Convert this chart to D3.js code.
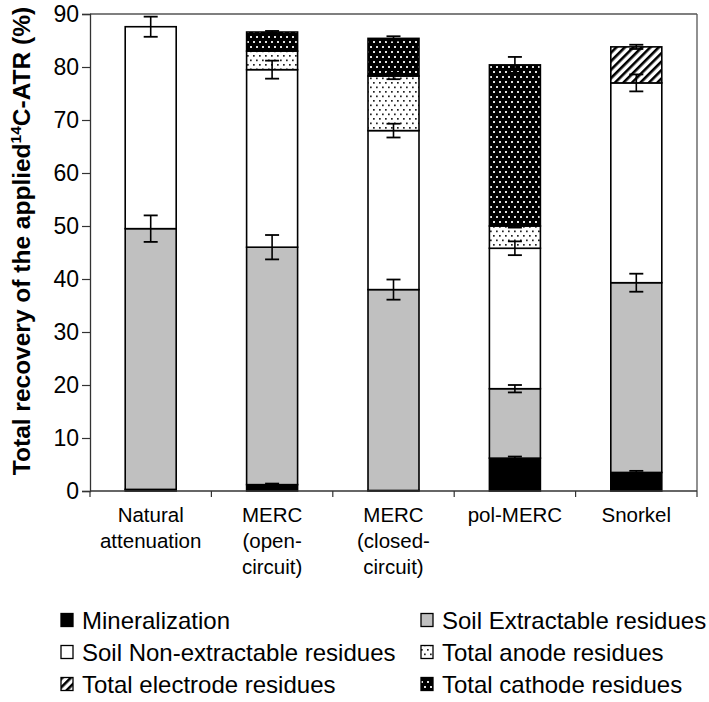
<!DOCTYPE html>
<html><head><meta charset="utf-8">
<script src="https://cdn.jsdelivr.net/npm/d3@7"></script>
<style>
body{margin:0;background:#fff;}
svg{display:block;font-family:"Liberation Sans",Arial,sans-serif;}
</style></head>
<body><svg id="c" width="709" height="702"></svg>
<script>
const categories = ["Natural attenuation","MERC (open-circuit)","MERC (closed-circuit)","pol-MERC","Snorkel"];
const categoryLines = [["Natural","attenuation"],["MERC","(open-","circuit)"],["MERC","(closed-","circuit)"],["pol-MERC"],["Snorkel"]];
const seriesNames = ["Mineralization","Soil Extractable residues","Soil Non-extractable residues","Total anode residues","Total electrode residues","Total cathode residues"];
// segment heights (%)
const mineralization = [0.3, 1.2, 0.1, 6.2, 3.5];
const extractable    = [49.2, 44.8, 37.9, 13.1, 35.8];
const nonExtractable = [38.1, 33.5, 30.0, 26.5, 37.7];
const anode          = [0, 3.5, 10.3, 4.2, 0];
const electrode      = [0, 0, 0, 0, 6.8];
const cathode        = [0, 3.6, 7.1, 30.4, 0];
// error bars (± %) at top of each segment
const errMineralization = [0, 0.2, 0, 0.3, 0.3];
const errExtractable    = [2.5, 2.3, 1.9, 0.7, 1.7];
const errNonExtractable = [1.9, 1.7, 1.3, 1.3, 1.6];
const errAnode          = [0, 0, 0.6, 0.3, 0];
const errElectrode      = [0, 0, 0, 0, 0.4];
const errCathode        = [0, 0.2, 0.4, 1.5, 0];
const yTicks = [0,10,20,30,40,50,60,70,80,90];

const seriesValues = [mineralization, extractable, nonExtractable, anode, electrode, cathode];
const seriesErr = [errMineralization, errExtractable, errNonExtractable, errAnode, errElectrode, errCathode];
const fills = ["#000","#c0c0c0","#fff","url(#pAnode)","url(#pElectrode)","url(#pCathode)"];

const svg = d3.select("#c");
const defs = svg.append("defs");
// anode: white with black dots
let p = defs.append("pattern").attr("id","pAnode").attr("patternUnits","userSpaceOnUse").attr("width",6).attr("height",9);
p.append("rect").attr("width",6).attr("height",9).attr("fill","#fff");
p.append("rect").attr("x",1).attr("y",1).attr("width",1.7).attr("height",1.7).attr("fill","#222");
p.append("rect").attr("x",4).attr("y",5.5).attr("width",1.7).attr("height",1.7).attr("fill","#222");
// cathode: black with white dots
p = defs.append("pattern").attr("id","pCathode").attr("patternUnits","userSpaceOnUse").attr("width",6).attr("height",10);
p.append("rect").attr("width",6).attr("height",10).attr("fill","#000");
p.append("rect").attr("x",1).attr("y",1).attr("width",2).attr("height",2).attr("fill","#e0e0e0");
p.append("rect").attr("x",4).attr("y",6).attr("width",2).attr("height",2).attr("fill","#e0e0e0");
// electrode: diagonal hatch
p = defs.append("pattern").attr("id","pElectrode").attr("patternUnits","userSpaceOnUse").attr("width",6).attr("height",6).attr("patternTransform","rotate(45)");
p.append("rect").attr("width",6).attr("height",6).attr("fill","#fff");
p.append("rect").attr("x",0).attr("y",0).attr("width",2.6).attr("height",6).attr("fill","#000");

const x = d3.scaleBand().domain(categories).range([90,697]).paddingInner(0.58).paddingOuter(0.29);
const y = d3.scaleLinear().domain([0,90]).range([491,14]);

// frame top/right
svg.append("line").attr("x1",90).attr("x2",697).attr("y1",y(90)).attr("y2",y(90)).attr("stroke","#555").attr("stroke-width",1.3);
svg.append("line").attr("x1",697).attr("x2",697).attr("y1",y(90)).attr("y2",y(0)).attr("stroke","#555").attr("stroke-width",1.3);

// stacked data
const rows = categories.map((c,i)=>{const o={cat:c}; seriesNames.forEach((s,k)=>o[s]=seriesValues[k][i]); return o;});
const stack = d3.stack().keys(seriesNames)(rows);

const g = svg.append("g");
stack.forEach((layer,k)=>{
  g.selectAll(null).data(layer.filter(d=>d[1]-d[0]>0)).join("rect")
    .attr("x",d=>x(d.data.cat)).attr("width",x.bandwidth())
    .attr("y",d=>y(d[1])).attr("height",d=>y(d[0])-y(d[1]))
    .attr("fill",fills[k]).attr("stroke","#000").attr("stroke-width",1.6);
});
// error bars
stack.forEach((layer,k)=>{
  layer.forEach((d,i)=>{
    const e = seriesErr[k][i];
    if(!(e>0) || d[1]-d[0]<=0) return;
    const cx = x(d.data.cat)+x.bandwidth()/2;
    g.append("line").attr("x1",cx).attr("x2",cx).attr("y1",y(d[1]+e)).attr("y2",y(d[1]-e)).attr("stroke","#000").attr("stroke-width",1.6);
    [d[1]+e,d[1]-e].forEach(v=>g.append("line").attr("x1",cx-7).attr("x2",cx+7).attr("y1",y(v)).attr("y2",y(v)).attr("stroke","#000").attr("stroke-width",1.8));
  });
});

// y axis
const ya = svg.append("g").attr("transform","translate(90,0)")
  .call(d3.axisLeft(y).tickValues(yTicks).tickSize(8).tickPadding(3).tickFormat(d3.format("d")));
ya.select(".domain").attr("stroke","#333").attr("stroke-width",1.3);
ya.selectAll(".tick line").attr("stroke","#333").attr("stroke-width",1.2);
ya.selectAll("text").attr("font-size",23).attr("fill","#000").attr("font-family","Liberation Sans, Arial, sans-serif");

// x axis
const bounds = categories.map(c=>x(c)-x.step()*x.paddingInner()/2).concat([697]);
svg.append("line").attr("x1",90).attr("x2",697).attr("y1",y(0)).attr("y2",y(0)).attr("stroke","#333").attr("stroke-width",1.3);
svg.selectAll(null).data(bounds).join("line").attr("x1",d=>d).attr("x2",d=>d).attr("y1",y(0)).attr("y2",y(0)+6).attr("stroke","#333").attr("stroke-width",1.2);
categories.forEach((c,i)=>{
  const t = svg.append("text").attr("text-anchor","middle").attr("font-size",20.5).attr("fill","#000");
  categoryLines[i].forEach((ln,j)=>t.append("tspan").attr("x",x(c)+x.bandwidth()/2).attr("y",522+j*26).text(ln));
});

// y label
const yl = svg.append("text").attr("transform","translate(30,241) rotate(-90)").attr("text-anchor","middle")
  .attr("font-size",24.5).attr("font-weight","bold").attr("fill","#000");
yl.append("tspan").text("Total recovery of the applied");
yl.append("tspan").attr("font-size",15.5).attr("dy",-9.5).text("14");
yl.append("tspan").attr("dy",9.5).text("C-ATR (%)");

// legend
const legPos = [[61,620],[421,620],[61,652],[421,652],[61,684],[421,684]];
seriesNames.forEach((s,k)=>{
  const [lx,ly] = legPos[k];
  svg.append("rect").attr("x",lx).attr("y",ly-6.5).attr("width",12).attr("height",13).attr("fill",fills[k]).attr("stroke","#000").attr("stroke-width",1.3);
  svg.append("text").attr("x",lx+21).attr("y",ly+8.5).attr("font-size",24).attr("fill","#000").text(s);
});
</script></body></html>
